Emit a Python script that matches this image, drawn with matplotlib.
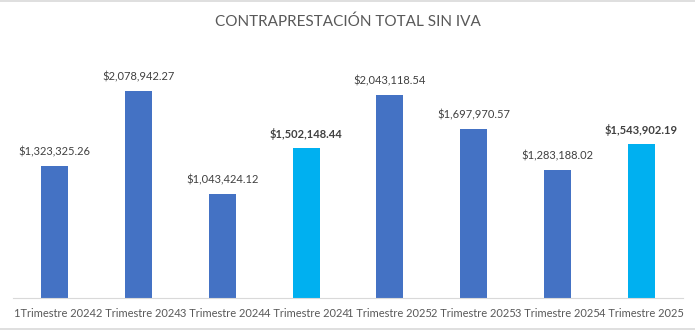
import matplotlib.pyplot as plt
from matplotlib.lines import Line2D

plt.rcParams["font.family"] = ["Lato", "DejaVu Sans"]

quarters = ["1Trimestre 2024", "2 Trimestre 2024", "3 Trimestre 2024", "4 Trimestre 2024",
            "1 Trimestre 2025", "2 Trimestre 2025", "3 Trimestre 2025", "4 Trimestre 2025"]
amounts = [1323325.26, 2078942.27, 1043424.12, 1502148.44,
           2043118.54, 1697970.57, 1283188.02, 1543902.19]
highlight = [False, False, False, True, False, False, False, True]

blue = "#4472C4"
cyan = "#00B0F0"
colors = [cyan if h else blue for h in highlight]

fig = plt.figure(figsize=(6.95, 3.31), dpi=100)
ax = fig.add_axes([13 / 695, 33 / 331, 670 / 695, 249 / 331])

x = range(len(amounts))
ax.bar(x, amounts, width=0.32, color=colors, zorder=2)

for i, (v, h) in enumerate(zip(amounts, highlight)):
    ax.annotate(f"${v:,.2f}", (i, v), xytext=(0, 6), textcoords="offset points",
                ha="center", va="bottom", fontsize=8,
                color="#404040", fontweight="bold" if h else "normal")

ax.set_xlim(-0.5, len(amounts) - 0.5)
ax.set_ylim(0, 2500000)
ax.set_yticks([])
ax.set_xticks(list(x))
ax.set_xticklabels(quarters, fontsize=8, color="#595959")
ax.tick_params(axis="x", length=0, pad=7)
for s in ["top", "right", "left"]:
    ax.spines[s].set_visible(False)
ax.spines["bottom"].set_color("#D9D9D9")

fig.text(0.5, 1 - 22 / 331, "CONTRAPRESTACIÓN TOTAL SIN IVA", ha="center", va="center",
         fontsize=11, color="#595959")

# thin frame lines at top and bottom only
for yy in (0.998, 0.006):
    fig.add_artist(Line2D([0, 1], [yy, yy], transform=fig.transFigure,
                          color="#D9D9D9", linewidth=1.2))

fig.savefig("out.png", dpi=100)
